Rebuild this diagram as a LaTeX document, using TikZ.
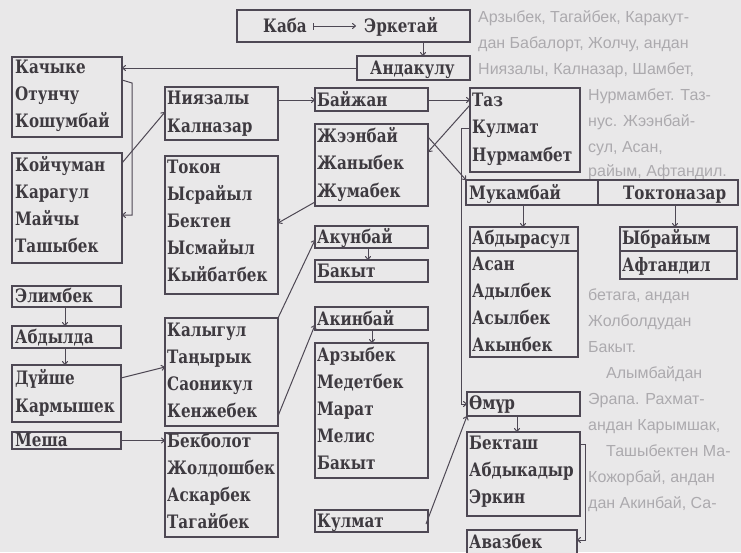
\documentclass[tikz,border=0pt]{standalone}
\usepackage{fontspec}
\newfontfamily\boxfont[FakeStretch=0.82]{DejaVu Serif}
\newfontfamily\pagefont{Liberation Sans}
\usetikzlibrary{arrows.meta,calc,fit}
\definecolor{paper}{RGB}{233,232,233}
\definecolor{ink}{RGB}{62,58,64}
\definecolor{linec}{RGB}{78,72,84}
\definecolor{bgtext}{RGB}{172,170,174}
\tikzset{
  box/.style={draw=linec, line width=1.3pt, fill=paper, inner sep=0pt, outer sep=0pt},
  nm/.style={anchor=base west, inner sep=0pt, text=ink, font=\boxfont\bfseries\fontsize{18.5}{18.5}\selectfont},
  pg/.style={anchor=base west, inner sep=0pt, text=bgtext, font=\pagefont\fontsize{16}{16}\selectfont},
  arr/.style={draw=linec, line width=1pt, -{To[length=4pt,width=6pt]}},
  ln/.style={draw=linec, line width=1.1pt},
}
\begin{document}
\begin{tikzpicture}[x=1pt,y=-1pt]
\fill[paper] (0,0) rectangle (741,552);
\useasboundingbox (0,0) rectangle (741,552);
% ---------- faint page text behind the diagram ----------
\node[pg] (p1) at (478,22) {Арзыбек, Тагайбек, Каракут-};
\node[pg] (p2) at (478,48) {дан Бабалорт, Жолчу, андан};
\node[pg] (p3) at (478,74) {Ниязалы, Калназар, Шамбет,};
\node[pg] (p4) at (588,100) {Нурмамбет. Таз-};
\node[pg] (p5) at (588,126) {нус. Жээнбай-};
\node[pg] (p6) at (588,152) {сул, Асан,};
\node[pg] (p7) at (588,176) {райым, Афтандил.};
\node[pg] (p8) at (588,300) {бетага, андан};
\node[pg] (p9) at (588,326) {Жолболдудан};
\node[pg] (p10) at (588,352) {Бакыт.};
\node[pg] (p11) at (606,378) {Алымбайдан};
\node[pg] (p12) at (588,404) {Эрапа. Рахмат-};
\node[pg] (p13) at (588,430) {андан Карымшак,};
\node[pg] (p14) at (606,456) {Ташыбектен Ма-};
\node[pg] (p15) at (588,482) {Кожорбай, андан};
\node[pg] (p16) at (588,508) {дан Акинбай, Са-};
% ---------- boxes ----------
\begin{scope}
\clip (0,0) rectangle (741,552);
\node[box, fit={(237,10)(470,42)}] (kaba) {};
\node[box, fit={(357,56)(470,80)}] (andak) {};
\node[box, fit={(12,57)(122,137)}] (a1) {};
\node[box, fit={(12,153)(122,263)}] (a2) {};
\node[box, fit={(12,286)(121,307)}] (elim) {};
\node[box, fit={(12,326)(121,348)}] (abdyl) {};
\node[box, fit={(12,365)(121,422)}] (duish) {};
\node[box, fit={(12,432)(121,449)}] (mesha) {};
\node[box, fit={(165,87)(278,140)}] (niy) {};
\node[box, fit={(165,156)(278,294)}] (tokon) {};
\node[box, fit={(165,318)(278,426)}] (kalyg) {};
\node[box, fit={(165,433)(278,537)}] (bekb) {};
\node[box, fit={(315,88)(428,111)}] (baizh) {};
\node[box, fit={(315,124)(428,206)}] (zheen) {};
\node[box, fit={(315,226)(428,248)}] (akun) {};
\node[box, fit={(315,260)(428,282)}] (bakyt) {};
\node[box, fit={(315,307)(428,330)}] (akin) {};
\node[box, fit={(315,343)(428,478)}] (arzy) {};
\node[box, fit={(315,510)(428,532)}] (kulm) {};
\node[box, fit={(470,88)(580,172)}] (taz) {};
\node[box, fit={(466,180)(738,205)}] (muk) {};
\node[box, fit={(470,227)(578,357)}] (abdr) {};
\node[box, fit={(620,227)(737,279)}] (ybr) {};
\node[box, fit={(467,392)(580,416)}] (omur) {};
\node[box, fit={(467,432)(580,516)}] (bekt) {};
\node[box, fit={(467,530)(577,560)}] (avaz) {};
\end{scope}
% dividers
\draw[ln] ($(muk.north west)+(132,0)$) -- ($(muk.south west)+(132,0)$);
\draw[ln] ($(abdr.north west)+(0,24)$) -- ($(abdr.north east)+(0,24)$);
\draw[ln] ($(ybr.north west)+(0,24)$) -- ($(ybr.north east)+(0,24)$);
% ---------- names ----------
\node[nm] (kabat) at (263,32) {Каба};
\node[nm] (erket) at (364,32) {Эркетай};
\draw[draw=linec, line width=1pt, {Bar[width=7pt]}-{To[length=4pt,width=6pt]}] ([xshift=6pt,yshift=6pt]kabat.base east) -- ([xshift=-8pt,yshift=6pt]erket.base west);
\node[nm] (andakt) at (370,74) {Андакулу};
\node[nm] (t1) at (15,73) {Качыке};
\node[nm] (t2) at (15,100) {Отунчу};
\node[nm] (t3) at (15,127) {Кошумбай};
\node[nm] (t4) at (15,171) {Койчуман};
\node[nm] (t5) at (15,198) {Карагул};
\node[nm] (t6) at (15,225) {Майчы};
\node[nm] (t7) at (15,252) {Ташыбек};
\node[nm] (t8) at (15,302) {Элимбек};
\node[nm] (t9) at (15,343) {Абдылда};
\node[nm] (t10) at (15,384) {Дүйше};
\node[nm] (t11) at (15,412) {Кармышек};
\node[nm] (t12) at (15,446) {Меша};
\node[nm] (u1) at (167,104) {Ниязалы};
\node[nm] (u2) at (167,132) {Калназар};
\node[nm] (u3) at (167,173) {Токон};
\node[nm] (u4) at (167,200) {Ысрайыл};
\node[nm] (u5) at (167,227) {Бектен};
\node[nm] (u6) at (167,254) {Ысмайыл};
\node[nm] (u7) at (167,281) {Кыйбатбек};
\node[nm] (u8) at (167,336) {Калыгул};
\node[nm] (u9) at (167,363) {Таңырык};
\node[nm] (u10) at (167,390) {Саоникул};
\node[nm] (u11) at (167,417) {Кенжебек};
\node[nm] (u12) at (167,447) {Бекболот};
\node[nm] (u13) at (167,474) {Жолдошбек};
\node[nm] (u14) at (167,501) {Аскарбек};
\node[nm] (u15) at (167,528) {Тагайбек};
\node[nm] (v1) at (317,106) {Байжан};
\node[nm] (v2) at (317,142) {Жээнбай};
\node[nm] (v3) at (317,169) {Жаныбек};
\node[nm] (v4) at (317,197) {Жумабек};
\node[nm] (v5) at (317,243) {Акунбай};
\node[nm] (v6) at (317,277) {Бакыт};
\node[nm] (v7) at (317,325) {Акинбай};
\node[nm] (v8) at (317,361) {Арзыбек};
\node[nm] (v9) at (317,388) {Медетбек};
\node[nm] (v10) at (317,415) {Марат};
\node[nm] (v11) at (317,442) {Мелис};
\node[nm] (v12) at (317,469) {Бакыт};
\node[nm] (v13) at (317,527) {Кулмат};
\node[nm] (w1) at (472,106) {Таз};
\node[nm] (w2) at (472,133) {Кулмат};
\node[nm] (w3) at (472,161) {Нурмамбет};
\node[nm] (w4) at (469,199) {Мукамбай};
\node[nm] (w5) at (623,199) {Токтоназар};
\node[nm] (w6) at (472,244) {Абдырасул};
\node[nm] (w7) at (472,270) {Асан};
\node[nm] (w8) at (472,297) {Адылбек};
\node[nm] (w9) at (472,324) {Асылбек};
\node[nm] (w10) at (472,351) {Акынбек};
\node[nm] (w11) at (622,244) {Ыбрайым};
\node[nm] (w12) at (622,271) {Афтандил};
\node[nm] (w13) at (469,409) {Өмүр};
\node[nm] (w14) at (469,449) {Бекташ};
\node[nm] (w15) at (469,476) {Абдыкадыр};
\node[nm] (w16) at (469,503) {Эркин};
\node[nm] (w17) at (469,548) {Авазбек};
% ---------- connectors ----------
\draw[arr] ($(kaba.south east)+(-47,0)$) -- ($(andak.north east)+(-47,0)$);
\draw[arr] (andak.west) -- (andak.west -| a1.east);
\draw[arr] ($(a1.north east)+(0,23)$) -- ++(10,3) -- ($(a2.north east)+(10,62)$) -- ($(a2.north east)+(0,62)$);
\draw[arr] ($(a2.north east)+(0,10)$) -- ($(niy.south west)+(0,-28)$);
\draw[arr] ($(niy.north east)+(0,13)$) -- ($(baizh.north west)+(0,12)$);
\draw[arr] ($(baizh.north east)+(0,12)$) -- ($(taz.north west)+(0,12)$);
\draw[arr] ($(taz.north west)+(0,17)$) -- ($(zheen.north east)+(0,28)$);
\draw[arr] ($(zheen.north east)+(0,13)$) -- (muk.north west);
\draw[arr] ($(zheen.north west)+(0,78)$) -- ($(tokon.north east)+(0,67)$);
\draw[arr] (kalyg.north east) -- ($(akun.north west)+(0,14)$);
\draw[arr] ($(kalyg.north east)+(0,98)$) -- ($(akin.north west)+(0,18)$);
\draw[arr] ($(akun.south west)+(53,0)$) -- ($(bakyt.north west)+(53,0)$);
\draw[arr] ($(akin.south west)+(57,0)$) -- ($(arzy.north west)+(57,0)$);
\draw[arr] ($(kulm.north east)+(-2,14)$) -- (omur.south west);
\draw[arr] ($(taz.north west)+(0,40)$) -- ++(-9,0) -- ($(omur.north west)+(-6,12)$) -- ($(omur.north west)+(0,12)$);
\draw[arr] ($(omur.south west)+(50,0)$) -- ($(bekt.north west)+(50,0)$);
\draw[arr] ($(bekt.north east)+(0,12)$) -- ++(5,0) -- ($(avaz.north east)+(8,10)$) -- ($(avaz.north east)+(0,10)$);
\draw[arr] ($(muk.south west)+(57,0)$) -- ($(abdr.north west)+(53,0)$);
\draw[arr] ($(muk.south west)+(209,0)$) -- ($(ybr.north west)+(55,0)$);
\draw[arr] ($(duish.north east)+(0,13)$) -- ($(kalyg.north west)+(0,49)$);
\draw[arr] (mesha.east) -- (mesha.east -| bekb.west);
\draw[arr] ($(elim.south west)+(53,0)$) -- ($(abdyl.north west)+(53,0)$);
\draw[arr] ($(abdyl.south west)+(53,0)$) -- ($(duish.north west)+(53,0)$);
\end{tikzpicture}
\end{document}
